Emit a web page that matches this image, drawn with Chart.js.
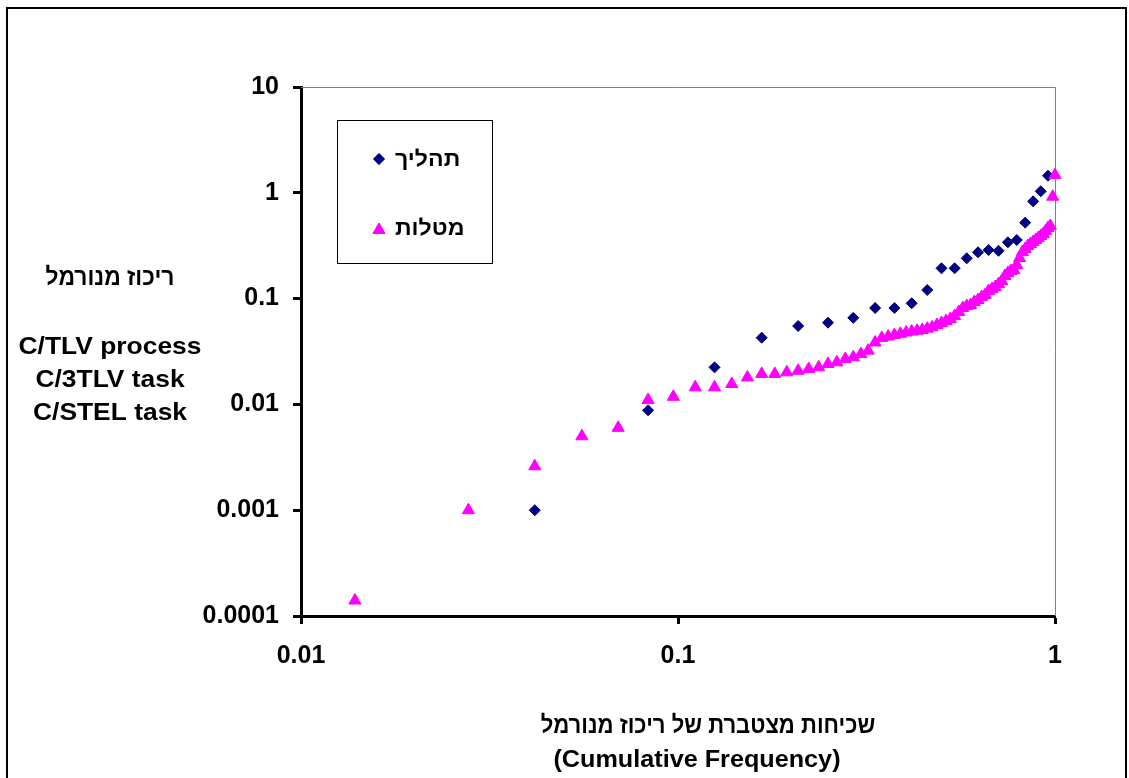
<!DOCTYPE html>
<html>
<head>
<meta charset="utf-8">
<script src="https://cdn.jsdelivr.net/npm/chart.js@4/dist/chart.umd.min.js"></script>
<style>
  body { margin: 0; background: #fff; }
  canvas { display: block; }
</style>
</head>
<body>
<canvas id="freqChart" width="1129" height="778"></canvas>
<script>
// cumulative frequency vs normalised concentration (log-log)
var processLabel = "תהליך";
var taskLabel = "מטלות";

var processX = [0.0417, 0.0833, 0.125, 0.1667, 0.2083, 0.25, 0.2917, 0.3333, 0.375, 0.4167,
  0.4583, 0.5, 0.5417, 0.5833, 0.625, 0.6667, 0.7083, 0.75, 0.7917, 0.8333, 0.875, 0.9167, 0.9583];
var processY = [0.001, 0.0088, 0.0224, 0.0427, 0.0551, 0.0592, 0.0658, 0.0815, 0.0815, 0.0903,
  0.1206, 0.1934, 0.1934, 0.2404, 0.274, 0.288, 0.283, 0.3405, 0.358, 0.522, 0.831, 1.033, 1.45];

var taskX = [0.0139, 0.0278, 0.0417, 0.0556, 0.0694, 0.0833, 0.0972, 0.1111, 0.125, 0.1389,
  0.1528, 0.1667, 0.1806, 0.1944, 0.2083, 0.2222, 0.2361, 0.25, 0.2639, 0.2778,
  0.2917, 0.3056, 0.3194, 0.3333, 0.3472, 0.3611, 0.375, 0.3889, 0.4028, 0.4167,
  0.4306, 0.4444, 0.4583, 0.4722, 0.4861, 0.5, 0.5139, 0.5278, 0.5417, 0.5556,
  0.5694, 0.5833, 0.5972, 0.6111, 0.625, 0.6389, 0.6528, 0.6667, 0.6806, 0.6944,
  0.7083, 0.7222, 0.7361, 0.75, 0.7639, 0.7778, 0.7917, 0.8056, 0.8194, 0.8333,
  0.8472, 0.8611, 0.875, 0.8889, 0.9028, 0.9167, 0.9306, 0.9444, 0.9583, 0.9722,
  0.9861, 1];
var taskY = [0.00014, 0.001, 0.0026, 0.005, 0.006, 0.011, 0.0118, 0.0145, 0.0145, 0.0156,
  0.018, 0.0194, 0.0194, 0.0201, 0.0208, 0.0216, 0.0224, 0.0241, 0.025, 0.0269,
  0.0279, 0.0299, 0.0322, 0.0385, 0.0425, 0.0438, 0.0452, 0.0465, 0.0478, 0.0488,
  0.0496, 0.0505, 0.052, 0.0535, 0.0563, 0.0588, 0.0614, 0.0642, 0.0685, 0.0747,
  0.0815, 0.0851, 0.087, 0.0929, 0.097, 0.1035, 0.108, 0.118, 0.1232, 0.1287,
  0.1374, 0.1467, 0.1636, 0.1746, 0.1824, 0.1864, 0.2078, 0.2419, 0.2757, 0.2943,
  0.3143, 0.328, 0.343, 0.358, 0.374, 0.391, 0.408, 0.436, 0.465, 0.486,
  0.918, 1.47];

var xTicks = [0.01, 0.1, 1];
var xTickLabels = ["0.01", "0.1", "1"];
var yTicks = [0.0001, 0.001, 0.01, 0.1, 1, 10];
var yTickLabels = ["0.0001", "0.001", "0.01", "0.1", "1", "10"];

var yTitle = ["ריכוז מנורמל", "", "C/TLV process", "C/3TLV task", "C/STEL task"];
var xTitle = ["שכיחות מצטברת של ריכוז מנורמל", "(Cumulative Frequency)"];

var FONT = "'Liberation Sans', Arial, sans-serif";
var NAVY = "#000080";
var MAGENTA = "#FF00FF";

function toPoints(xs, ys) {
  var pts = [];
  for (var i = 0; i < xs.length; i++) pts.push({ x: xs[i], y: ys[i] });
  return pts;
}

function marker(ctx, style, r, color, x, y) {
  ctx.save();
  ctx.fillStyle = color;
  ctx.strokeStyle = color;
  ctx.lineWidth = 1;
  Chart.helpers.drawPoint(ctx, { pointStyle: style, radius: r, rotation: 0, borderWidth: 1 }, x, y);
  ctx.fill();
  ctx.restore();
}

// text stretched/squeezed sideways to match the original widths
function wideText(ctx, txt, x, y, sx) {
  ctx.save();
  ctx.translate(x, y);
  ctx.scale(sx, 1);
  ctx.fillText(txt, 0, 0);
  ctx.restore();
}

// frame, plot border, legend box and the two titles
var extras = {
  id: "extras",
  beforeDraw: function (chart) {
    var ctx = chart.ctx;
    ctx.save();
    ctx.fillStyle = "#fff";
    ctx.fillRect(0, 0, chart.width, chart.height);
    ctx.strokeStyle = "#000";
    ctx.lineWidth = 2;
    ctx.strokeRect(7, 8, 1119, 800);
    ctx.restore();
  },
  beforeDatasetsDraw: function (chart) {
    var a = chart.chartArea, ctx = chart.ctx;
    ctx.save();
    ctx.strokeStyle = "#808080";
    ctx.lineWidth = 1;
    ctx.beginPath();
    ctx.moveTo(a.left, a.top + 0.5);
    ctx.lineTo(a.right + 0.5, a.top + 0.5);
    ctx.lineTo(a.right + 0.5, a.bottom);
    ctx.stroke();
    ctx.restore();
  },
  afterDraw: function (chart) {
    var ctx = chart.ctx;
    ctx.save();
    // legend
    ctx.strokeStyle = "#000";
    ctx.lineWidth = 1;
    ctx.strokeRect(337.5, 120.5, 155, 143);
    marker(ctx, "rectRot", 5.5, NAVY, 379, 159);
    marker(ctx, "triangle", 7, MAGENTA, 379, 230);
    ctx.fillStyle = "#000";
    ctx.font = "bold 22px " + FONT;
    ctx.textAlign = "left";
    ctx.textBaseline = "middle";
    wideText(ctx, processLabel, 395, 160, 1.05);
    wideText(ctx, taskLabel, 395, 229, 1.05);

    // y title (horizontal text block)
    ctx.font = "bold 24px " + FONT;
    ctx.textAlign = "center";
    var ys = [278, 312, 347, 380, 413];
    var sx = [0.95, 1, 1.1, 1.1, 1.1];
    for (var i = 0; i < yTitle.length; i++) {
      if (yTitle[i]) wideText(ctx, yTitle[i], 110, ys[i], sx[i]);
    }
    // x title
    wideText(ctx, xTitle[0], 708, 726, 0.92);
    wideText(ctx, xTitle[1], 697, 760, 1.05);
    ctx.restore();
  }
};

new Chart(document.getElementById("freqChart"), {
  type: "scatter",
  data: {
    datasets: [
      {
        label: taskLabel,
        data: toPoints(taskX, taskY),
        pointStyle: "triangle",
        pointRadius: 7,
        pointHoverRadius: 7,
        backgroundColor: MAGENTA,
        borderColor: MAGENTA,
        borderWidth: 1,
        clip: false,
        order: 0
      },
      {
        label: processLabel,
        data: toPoints(processX, processY),
        pointStyle: "rectRot",
        pointRadius: 5.5,
        pointHoverRadius: 5.5,
        backgroundColor: NAVY,
        borderColor: NAVY,
        borderWidth: 1,
        clip: false,
        order: 1
      }
    ]
  },
  plugins: [extras],
  options: {
    responsive: false,
    animation: false,
    events: [],
    layout: { padding: { left: 181, right: 74, top: 87, bottom: 102 } },
    plugins: {
      legend: { display: false },
      tooltip: { enabled: false }
    },
    scales: {
      x: {
        type: "logarithmic",
        min: 0.01,
        max: 1,
        afterFit: function (s) { s.height = 60; },
        afterBuildTicks: function (s) {
          s.ticks = xTicks.map(function (v) { return { value: v }; });
        },
        ticks: {
          color: "#000",
          font: { family: FONT, size: 25, weight: "bold" },
          padding: 17,
          maxRotation: 0,
          autoSkip: false,
          callback: function (v) { return xTickLabels[xTicks.indexOf(v)]; }
        },
        grid: { drawOnChartArea: false, drawTicks: true, tickLength: 8, tickWidth: 3, tickColor: "#000" },
        border: { display: true, color: "#000", width: 3 }
      },
      y: {
        type: "logarithmic",
        min: 0.0001,
        max: 10,
        afterFit: function (s) { s.width = 120; },
        afterBuildTicks: function (s) {
          s.ticks = yTicks.map(function (v) { return { value: v }; });
        },
        ticks: {
          color: "#000",
          font: { family: FONT, size: 25, weight: "bold" },
          padding: 14,
          autoSkip: false,
          callback: function (v) { return yTickLabels[yTicks.indexOf(v)]; }
        },
        grid: { drawOnChartArea: false, drawTicks: true, tickLength: 8, tickWidth: 3, tickColor: "#000" },
        border: { display: true, color: "#000", width: 3 }
      }
    }
  }
});
</script>
</body>
</html>
